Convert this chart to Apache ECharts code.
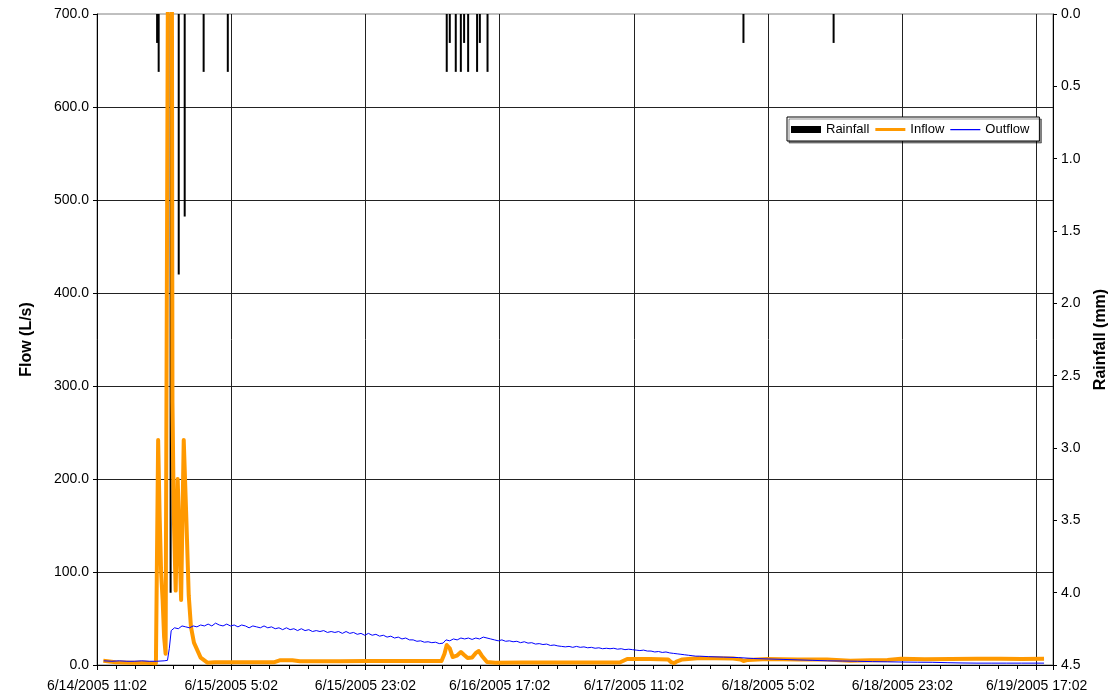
<!DOCTYPE html>
<html>
<head>
<meta charset="utf-8">
<title>Flow and Rainfall</title>
<script src="https://cdn.jsdelivr.net/npm/echarts@6/dist/echarts.min.js"></script>
<style>
  html, body { margin: 0; padding: 0; background: #fff; }
  #chart { width: 1117px; height: 698px; }
</style>
</head>
<body>
<div id="chart"></div>
<script>
// Time axis is measured in hours after 6/14/2005 11:02; labels every 18 hours.
const xTickLabels = [
  '6/14/2005 11:02', '6/15/2005 5:02', '6/15/2005 23:02', '6/16/2005 17:02',
  '6/17/2005 11:02', '6/18/2005 5:02', '6/18/2005 23:02', '6/19/2005 17:02'
];
const xTickStep = 18;
const xEnd = 128.2;

// Rainfall depth (mm) by time (hours)
const rainHours = [8.06, 8.27, 9.87, 10.96, 11.76, 14.30, 17.54,
  46.90, 47.31, 48.11, 48.79, 49.23, 49.77, 50.97, 51.34, 52.37,
  86.69, 98.78];
const rainDepth = [0.2, 0.4, 4.0, 1.8, 1.4, 0.4, 0.4,
  0.4, 0.2, 0.4, 0.4, 0.2, 0.4, 0.4, 0.2, 0.4,
  0.2, 0.2];

// Inflow (L/s): [hours, flow]
const inflow = [
  [0.85, 4.5], [2.5, 3], [4.5, 2.5], [6.5, 2.5], [7.9, 2],
  [8.2, 242], [8.4, 160], [8.6, 99], [8.8, 70], [9.0, 30], [9.2, 12], [9.4, 14],
  [9.62, 1000], [10.0, 1000], [10.12, 282], [10.3, 160], [10.55, 80], [10.82, 200],
  [11.28, 70], [11.63, 242], [11.95, 165], [12.30, 75], [12.6, 41], [13.0, 24],
  [13.9, 8], [14.8, 2.5], [15.8, 3], [18, 3], [20.5, 3], [23.8, 3], [24.5, 5],
  [26.2, 5], [27.2, 4], [30, 4], [32.5, 4], [36, 4.3], [40.6, 4.3], [46.2, 4.3],
  [46.6, 12], [46.9, 21.5], [47.3, 18], [47.7, 8.6], [48.25, 10], [48.8, 14],
  [49.2, 11], [49.7, 7.5], [50.3, 8], [50.8, 13], [51.2, 15], [51.6, 10],
  [52.3, 3.2], [53.4, 2.5], [57, 2.7], [60.7, 2.7], [65, 2.7], [70.1, 2.7],
  [71.1, 6.5], [74.2, 6.5], [76.6, 6], [77.0, 3], [77.4, 2], [77.8, 4],
  [78.5, 6], [80.9, 7.5], [85.3, 7], [86.3, 6], [86.7, 4.3], [87.3, 5.5],
  [89.9, 6.5], [94, 6], [97.9, 6], [101.0, 4.6], [103.7, 5], [106.0, 5.4],
  [107.8, 6.8], [111, 6.2], [114.5, 6.5], [118, 6.8], [121.2, 6.8], [124, 6.5],
  [127.0, 6.8]
];

// Outflow (L/s): [hours, flow]
const outflow = [
  [0.9, 4.5], [2, 4], [3, 4.5], [4, 4], [5, 4], [6, 4.5], [7, 4], [8, 4],
  [9, 4.5], [9.45, 5], [9.7, 18], [9.95, 37], [10.4, 40], [10.9, 39],
  [11.4, 42], [11.9, 41], [12.4, 40], [12.9, 42], [13.4, 41], [13.9, 43],
  [14.4, 42], [14.9, 44], [15.4, 42], [15.9, 45], [16.4, 43], [16.9, 42],
  [17.4, 44], [17.9, 42], [18.4, 43], [18.9, 41], [19.4, 43], [19.9, 42],
  [20.4, 40], [20.9, 42], [21.4, 41], [21.9, 40], [22.4, 42], [22.9, 40],
  [23.4, 41], [23.9, 39], [24.4, 40], [24.9, 38], [25.4, 40], [25.9, 38],
  [26.4, 39], [26.9, 37], [27.4, 39], [27.9, 37], [28.4, 38], [28.9, 36],
  [29.4, 37], [29.9, 36], [30.4, 37], [30.9, 35], [31.4, 36], [31.9, 35],
  [32.4, 36], [32.9, 34], [33.4, 36], [33.9, 34], [34.4, 35], [34.9, 33],
  [35.4, 34], [35.9, 32], [36.4, 34], [36.9, 32], [37.4, 33], [37.9, 31],
  [38.4, 32], [38.9, 30], [39.4, 31], [39.9, 29], [40.4, 30], [40.9, 28],
  [41.4, 29], [41.9, 27], [42.4, 27], [42.9, 25.5], [43.4, 26], [43.9, 24.5],
  [44.4, 25], [44.9, 24], [45.4, 24.5], [45.9, 23], [46.4, 23.5], [46.8, 27],
  [47.3, 26], [47.8, 28], [48.3, 27], [48.8, 29], [49.3, 28], [49.8, 29],
  [50.3, 27.5], [50.8, 29], [51.3, 28], [51.8, 30], [52.3, 29], [52.8, 28],
  [53.3, 27], [53.8, 26], [54.3, 27], [54.8, 25.5], [55.3, 26], [55.8, 25],
  [56.3, 25.5], [56.8, 24], [57.3, 25], [57.8, 23.5], [58.3, 24], [58.8, 22.5],
  [59.3, 23], [59.8, 22], [60.3, 22.5], [60.8, 21], [61.3, 21.5], [61.8, 20.5],
  [62.3, 20], [62.8, 19.5], [63.3, 20], [63.8, 19], [64.3, 20], [64.8, 19],
  [65.3, 19.5], [65.8, 18.5], [66.3, 19], [66.8, 18], [67.3, 18.5], [67.8, 17.5],
  [68.3, 18], [68.8, 17.5], [69.3, 18], [69.8, 17], [70.3, 17.5], [70.8, 16.5],
  [71.3, 17], [71.8, 16.5], [72.3, 16], [72.8, 15.5], [73.3, 16], [73.8, 15],
  [74.3, 15], [74.8, 14], [75.3, 14.5], [75.8, 13.5], [76.3, 14], [76.8, 13],
  [77.3, 12.5], [77.8, 12], [78.3, 11.5], [78.8, 11], [79.3, 10.5], [79.8, 10],
  [80.3, 9.5], [80.8, 9.5], [82, 9], [84, 8.5], [86, 8], [88, 7], [90, 6.5],
  [92, 6], [94, 5.5], [96, 5], [98, 4.5], [100, 4.3], [102, 4], [104, 3.6],
  [106, 3.4], [108, 3.2], [110, 3], [112, 2.9], [114, 2.5], [116, 2.2],
  [118, 2], [120, 2], [122, 2], [124, 2], [127, 2]
];

const FONT = '"Liberation Sans", Arial, sans-serif';

// Legend keys: a solid block for rainfall, flat strokes for the two flow lines.
// The zero-area segments at the top and bottom keep each key's box 7px tall.
const thickKey = 'path://M0,0L30,0M0,2L30,2L30,5L0,5ZM0,7L30,7';
const thinKey = 'path://M0,0L30,0M0,3L30,3L30,4.2L0,4.2ZM0,7L30,7';

const chart = echarts.init(document.getElementById('chart'), null, { renderer: 'canvas' });

chart.setOption({
  animation: false,
  backgroundColor: '#ffffff',
  textStyle: { fontFamily: FONT, color: '#000' },
  grid: {
    left: 97, right: 64, top: 14, bottom: 33,
    show: true, borderColor: '#808080', borderWidth: 1, backgroundColor: 'transparent'
  },
  legend: {
    left: 787, top: 117,
    padding: [6, 10, 5, 4],
    itemGap: 6,
    itemWidth: 30, itemHeight: 7,
    backgroundColor: '#ffffff',
    borderColor: '#000', borderWidth: 1,
    shadowColor: 'rgba(0,0,0,0.45)', shadowOffsetX: 2, shadowOffsetY: 2, shadowBlur: 0,
    textStyle: { fontFamily: FONT, fontSize: 13, color: '#000' },
    data: [
      { name: 'Rainfall', icon: 'rect', itemStyle: { borderWidth: 0 } },
      { name: 'Inflow', icon: thickKey, itemStyle: { borderWidth: 0 } },
      { name: 'Outflow', icon: thinKey, itemStyle: { borderWidth: 0 } }
    ]
  },
  xAxis: {
    type: 'value',
    min: 0, max: xEnd, interval: xTickStep,
    axisLine: { show: true, lineStyle: { color: '#000', width: 1 } },
    axisTick: { show: true, length: 5, lineStyle: { color: '#000' } },
    minorTick: { show: true, splitNumber: 7, length: 4, lineStyle: { color: '#000' } },
    splitLine: { show: true, lineStyle: { color: '#222', width: 1 } },
    axisLabel: {
      showMaxLabel: false,
      margin: 14,
      fontFamily: FONT, fontSize: 14, color: '#000',
      formatter: v => {
        const i = Math.round(v / xTickStep);
        return Math.abs(v - i * xTickStep) < 1e-6 && xTickLabels[i] ? xTickLabels[i] : '';
      }
    }
  },
  yAxis: [
    {
      type: 'value', position: 'left',
      min: 0, max: 700, interval: 100,
      name: 'Flow (L/s)', nameLocation: 'middle', nameGap: 62, nameRotate: 90,
      nameTextStyle: { fontFamily: FONT, fontSize: 16, fontWeight: 'bold', color: '#000' },
      axisLine: { show: true, lineStyle: { color: '#000', width: 1 } },
      axisTick: { show: true, length: 4, lineStyle: { color: '#000' } },
      splitLine: { show: true, showMaxLine: false, lineStyle: { color: '#222', width: 1 } },
      axisLabel: {
        margin: 8, fontFamily: FONT, fontSize: 14, color: '#000',
        formatter: v => v.toFixed(1)
      }
    },
    {
      type: 'value', position: 'right',
      min: 0, max: 4.5, interval: 0.5, inverse: true,
      name: 'Rainfall (mm)', nameLocation: 'middle', nameGap: 40, nameRotate: 90,
      nameTextStyle: { fontFamily: FONT, fontSize: 16, fontWeight: 'bold', color: '#000' },
      axisLine: { show: true, lineStyle: { color: '#000', width: 1 } },
      axisTick: { show: true, length: 4, lineStyle: { color: '#000' } },
      splitLine: { show: false },
      axisLabel: {
        margin: 8, fontFamily: FONT, fontSize: 14, color: '#000',
        formatter: v => v.toFixed(1)
      }
    }
  ],
  series: [
    {
      name: 'Rainfall', type: 'bar',
      xAxisIndex: 0, yAxisIndex: 1,
      barWidth: 2,
      itemStyle: { color: '#000' },
      z: 2,
      data: rainHours.map((h, i) => [h, rainDepth[i]])
    },
    {
      name: 'Inflow', type: 'line',
      xAxisIndex: 0, yAxisIndex: 0,
      symbol: 'none',
      clip: true,
      lineStyle: { color: '#FF9900', width: 4, join: 'round' },
      itemStyle: { color: '#FF9900' },
      z: 3,
      data: inflow
    },
    {
      name: 'Outflow', type: 'line',
      xAxisIndex: 0, yAxisIndex: 0,
      symbol: 'none',
      clip: true,
      lineStyle: { color: '#0000FF', width: 1 },
      itemStyle: { color: '#0000FF' },
      z: 4,
      data: outflow
    }
  ]
});
</script>
</body>
</html>
